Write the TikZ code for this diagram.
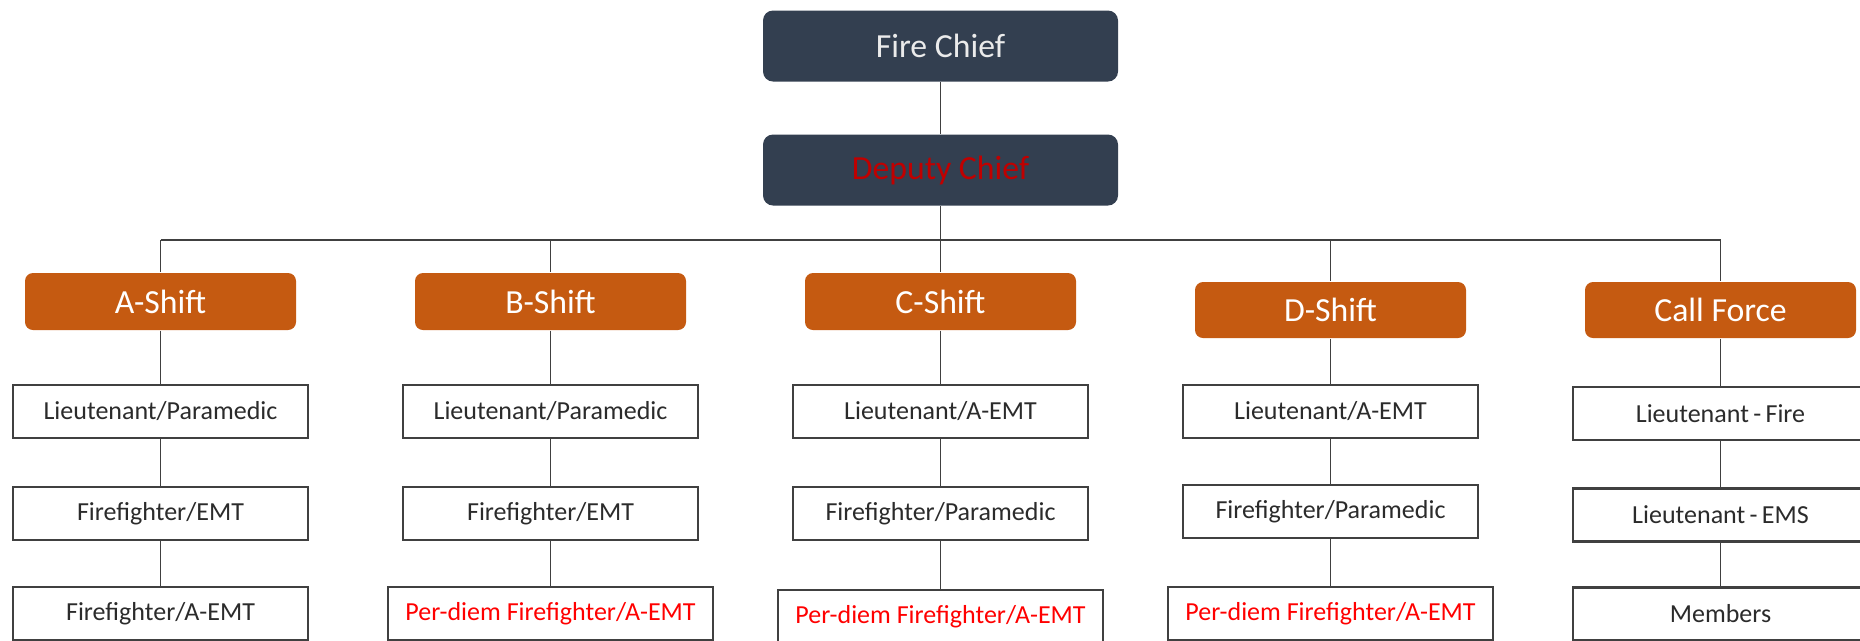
\documentclass[tikz,border=0pt]{standalone}
\usepackage{fontspec}
\setmainfont{Carlito}
\usetikzlibrary{positioning}
\definecolor{chiefblue}{HTML}{333F50}
\definecolor{shiftorange}{HTML}{C55A11}
\definecolor{deputyred}{HTML}{C00000}
\definecolor{linegray}{HTML}{404040}
\definecolor{ranktext}{HTML}{2B2B2B}

\begin{document}
\begin{tikzpicture}[auto,node distance=3.9cm,
  chief node/.style={rectangle,rounded corners=0.1cm,fill=chiefblue,text=white!92!black,minimum width=3.55cm,minimum height=0.71cm,font=\fontsize{9.6}{11}\selectfont},
  shift node/.style={rectangle,rounded corners=0.08cm,fill=shiftorange,text=white,minimum width=2.71cm,minimum height=0.57cm,font=\fontsize{9.6}{11}\selectfont},
  rank node/.style={rectangle,draw=linegray,line width=0.6pt,fill=white,text=ranktext,minimum width=2.95cm,minimum height=0.53cm,inner sep=0pt,font=\fontsize{7.4}{9}\selectfont},
  diem node/.style={rank node,minimum width=3.25cm,text=red}]
  \useasboundingbox (0,0) rectangle (18.6,-6.4);
  \clip (0,0) rectangle (18.6,-6.4);

  \node[chief node] (chief) at (9.405,-0.46) {Fire Chief};
  \node[chief node,text=deputyred] (deputy) [below of=chief,node distance=1.24cm] {Deputy Chief};
  \coordinate[below of=deputy,node distance=0.70cm] (bus);

  \node[shift node] (cshift) [below of=deputy,node distance=1.315cm] {C-Shift};
  \node[shift node] (bshift) [left of=cshift] {B-Shift};
  \node[shift node] (ashift) [left of=bshift] {A-Shift};
  \node[shift node,minimum height=0.56cm,yshift=-0.085cm] (dshift) [right of=cshift] {D-Shift};
  \node[shift node,minimum height=0.56cm] (cforce) [right of=dshift] {Call Force};

  % A-Shift
  \node[rank node] (alieut) [below of=ashift,node distance=1.1cm] {Lieutenant/Paramedic};
  \node[rank node] (aff) [below of=alieut,node distance=1.02cm] {Firefighter/EMT};
  \node[rank node] (aemt) [below of=aff,node distance=1.0cm] {Firefighter/A-EMT};

  % B-Shift
  \node[rank node] (blieut) [below of=bshift,node distance=1.1cm] {Lieutenant/Paramedic};
  \node[rank node] (bff) [below of=blieut,node distance=1.02cm] {Firefighter/EMT};
  \node[diem node] (bdiem) [below of=bff,node distance=1.0cm] {Per-diem Firefighter/A-EMT};

  % C-Shift
  \node[rank node] (clieut) [below of=cshift,node distance=1.1cm] {Lieutenant/A-EMT};
  \node[rank node] (cff) [below of=clieut,node distance=1.02cm] {Firefighter/Paramedic};
  \node[diem node] (cdiem) [below of=cff,node distance=1.03cm] {Per-diem Firefighter/A-EMT};

  % D-Shift
  \node[rank node] (dlieut) [below of=dshift,node distance=1.015cm] {Lieutenant/A-EMT};
  \node[rank node] (dff) [below of=dlieut,node distance=1.0cm] {Firefighter/Paramedic};
  \node[diem node] (ddiem) [below of=dff,node distance=1.02cm] {Per-diem Firefighter/A-EMT};

  % Call Force
  \node[rank node] (flieut) [below of=cforce,node distance=1.035cm] {Lieutenant\,-\,Fire};
  \node[rank node] (fems) [below of=flieut,node distance=1.015cm] {Lieutenant\,-\,EMS};
  \node[rank node] (fmembers) [below of=fems,node distance=0.99cm] {Members};

  \path[every edge/.style={draw=linegray,line width=0.45pt}]
    (chief) edge (deputy)
    (deputy) edge (bus)
    (ashift |- bus) edge (cforce |- bus)
    (ashift |- bus) edge (ashift)
    (bshift |- bus) edge (bshift)
    (cshift |- bus) edge (cshift)
    (dshift |- bus) edge (dshift)
    (cforce |- bus) edge (cforce);

  \path[every edge/.style={draw=linegray,line width=0.45pt}]
    (ashift) edge (alieut) (alieut) edge (aff) (aff) edge (aemt)
    (bshift) edge (blieut) (blieut) edge (bff) (bff) edge (bdiem)
    (cshift) edge (clieut) (clieut) edge (cff) (cff) edge (cdiem)
    (dshift) edge (dlieut) (dlieut) edge (dff) (dff) edge (ddiem)
    (cforce) edge (flieut) (flieut) edge (fems) (fems) edge (fmembers);
\end{tikzpicture}
\end{document}
